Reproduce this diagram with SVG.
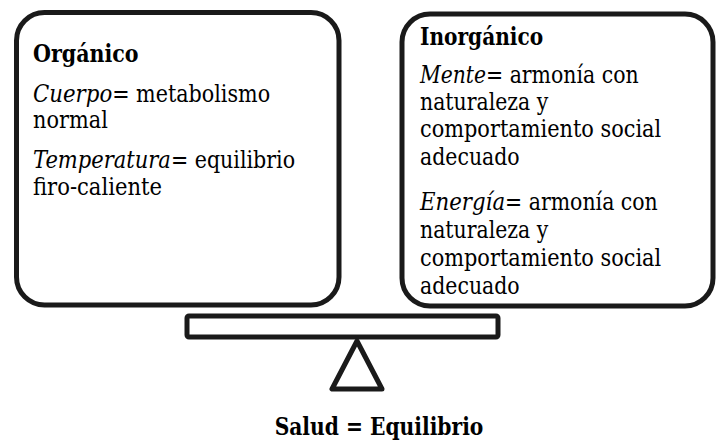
<svg xmlns="http://www.w3.org/2000/svg" width="716" height="441" viewBox="0 0 716 441">
<style>
.box{fill:#fff;stroke:#1a1a1a;stroke-width:5}
text{font-family:"DejaVu Serif","Liberation Serif",serif;font-size:23.5px;fill:#000}
.b{font-weight:bold}
.i{font-style:italic}
</style>
<rect width="716" height="441" fill="#fff"/>
<g id="organico">
<rect class="box" x="16.5" y="12.5" width="322.5" height="292.5" rx="28" ry="28"/>
<text class="b" x="33" y="62" textLength="105.6" lengthAdjust="spacingAndGlyphs">Orgánico</text>
<text class="i" x="33" y="102" textLength="79.2" lengthAdjust="spacingAndGlyphs">Cuerpo</text>
<text x="112.2" y="102" textLength="157.9" lengthAdjust="spacingAndGlyphs">= metabolismo</text>
<text x="33" y="128" textLength="74.8" lengthAdjust="spacingAndGlyphs">normal</text>
<text class="i" x="33" y="168" textLength="137.9" lengthAdjust="spacingAndGlyphs">Temperatura</text>
<text x="170.9" y="168" textLength="124.2" lengthAdjust="spacingAndGlyphs">= equilibrio</text>
<text x="33" y="195" textLength="129" lengthAdjust="spacingAndGlyphs">firo-caliente</text>
</g>
<g id="inorganico">
<rect class="box" x="402" y="14" width="311" height="292" rx="28" ry="28"/>
<text class="b" x="420" y="45" textLength="123.2" lengthAdjust="spacingAndGlyphs">Inorgánico</text>
<text class="i" x="420" y="83" textLength="66" lengthAdjust="spacingAndGlyphs">Mente</text>
<text x="486" y="83" textLength="152.7" lengthAdjust="spacingAndGlyphs">= armonía con</text>
<text x="420" y="110" textLength="128.3" lengthAdjust="spacingAndGlyphs">naturaleza y</text>
<text x="420" y="137" textLength="241.2" lengthAdjust="spacingAndGlyphs">comportamiento social</text>
<text x="420" y="165" textLength="99.7" lengthAdjust="spacingAndGlyphs">adecuado</text>
<text class="i" x="420" y="210" textLength="85.1" lengthAdjust="spacingAndGlyphs">Energía</text>
<text x="505.1" y="210" textLength="152.7" lengthAdjust="spacingAndGlyphs">= armonía con</text>
<text x="420" y="238" textLength="128.3" lengthAdjust="spacingAndGlyphs">naturaleza y</text>
<text x="420" y="266" textLength="241.2" lengthAdjust="spacingAndGlyphs">comportamiento social</text>
<text x="420" y="294" textLength="99.7" lengthAdjust="spacingAndGlyphs">adecuado</text>
</g>
<g id="balanza">
<rect class="box" x="187" y="316" width="311" height="21" rx="2" ry="2"/>
<polygon class="box" points="357,341 332,389 382,389" stroke-linejoin="round"/>
</g>
<g id="connectors"></g>
<g id="salud">
<text class="b" x="379" y="435" text-anchor="middle" textLength="208.7" lengthAdjust="spacingAndGlyphs">Salud = Equilibrio</text>
</g>
</svg>
